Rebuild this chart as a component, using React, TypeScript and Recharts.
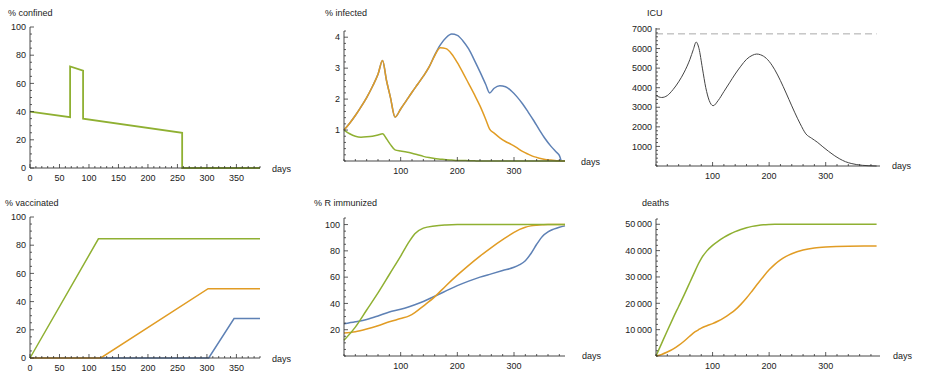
import { LineChart, Line, XAxis, YAxis } from "recharts";

const BLUE = "#5E81B5";
const ORANGE = "#E19C24";
const GREEN = "#8FB032";
const AXIS = "#333";
const TEXT = "#222";
const FONT = '"Liberation Sans", Arial, sans-serif';

// % confined
const confinedDays = [0, 68, 68, 90, 90, 258, 258, 390];
const confinedGreen = [40, 36, 72, 69, 35, 25, 0, 0];

// % infected
const infectedDays = [0, 10, 20, 30, 40, 50, 60, 68, 75, 82, 90, 100, 110, 120, 130, 140, 150, 160, 170, 180, 190, 200, 210, 220, 230, 240, 250, 257, 265, 275, 285, 295, 305, 315, 325, 335, 345, 355, 365, 375, 380, 383, 390];
const infectedBlue = [1.0, 1.22, 1.47, 1.75, 2.05, 2.4, 2.8, 3.25, 2.6, 2.05, 1.42, 1.68, 1.95, 2.22, 2.48, 2.74, 3.03, 3.42, 3.75, 3.98, 4.1, 4.06, 3.88, 3.62, 3.26, 2.88, 2.48, 2.2, 2.35, 2.43, 2.4, 2.27, 2.08, 1.85, 1.58, 1.3, 1.0, 0.72, 0.48, 0.28, 0.18, 0.02, null];
const infectedOrange = [1.0, 1.22, 1.47, 1.75, 2.05, 2.4, 2.8, 3.25, 2.6, 2.05, 1.42, 1.68, 1.95, 2.22, 2.48, 2.74, 3.03, 3.4, 3.66, 3.63, 3.46, 3.18, 2.85, 2.5, 2.15, 1.78, 1.35, 1.03, 0.9, 0.75, 0.63, 0.54, 0.43, 0.31, 0.22, 0.14, 0.09, 0.05, 0.03, 0.01, 0.01, 0, 0];
const infectedGreen = [1.0, 0.88, 0.8, 0.77, 0.78, 0.8, 0.84, 0.88, 0.72, 0.53, 0.36, 0.32, 0.29, 0.25, 0.2, 0.15, 0.11, 0.08, 0.06, 0.04, 0.03, 0.02, 0.015, 0.01, 0.005, 0, 0, 0, 0, 0, 0, 0, 0, 0, 0, 0, 0, 0, 0, 0, 0, 0, 0];

// ICU
const icuDays = [0, 10, 20, 30, 40, 50, 60, 66, 71, 76, 82, 88, 94, 101, 110, 120, 130, 140, 150, 160, 170, 178, 185, 195, 205, 215, 225, 235, 245, 255, 265, 275, 285, 295, 305, 315, 325, 335, 345, 355, 365, 375, 390];
const icuBeds = [3600, 3500, 3600, 3900, 4300, 4800, 5450, 5950, 6330, 6000, 5000, 4000, 3350, 3080, 3350, 3800, 4250, 4700, 5100, 5450, 5650, 5720, 5680, 5500, 5150, 4650, 4050, 3400, 2750, 2150, 1640, 1420, 1220, 980, 750, 540, 360, 220, 130, 70, 35, 15, 0];
const icuCapacityDays = [0, 390];
const icuCapacity = [6750, 6750];

// % vaccinated
const vaccGreenDays = [0, 116, 390];
const vaccGreen = [0, 84.5, 84.5];
const vaccOrangeDays = [0, 120, 302, 390];
const vaccOrange = [0, 0, 49.2, 49.2];
const vaccBlueDays = [0, 303, 346, 390];
const vaccBlue = [0, 0, 28, 28];

// % R immunized
const immuneDays = [0, 20, 40, 60, 80, 100, 115, 125, 140, 160, 180, 200, 220, 240, 260, 280, 300, 310, 320, 330, 340, 350, 360, 370, 380, 390];
const immuneBlue = [24.5, 26, 27.8, 30.5, 33.5, 35.5, 37.5, 39, 41.5, 45.5, 49.5, 53.5, 57, 60, 62.5, 65, 67.5, 69.5, 72.5, 78, 85, 91, 94.5, 96.5, 98, 99];
const immuneOrange = [17.5, 18.5, 20.5, 23, 26, 28.5, 30.5, 33, 38, 45, 53.5, 61.5, 69, 76, 82.5, 88.5, 94, 96.3, 98, 99, 99.5, 99.8, 100, 100, 100, 100];
const immuneGreen = [12, 22, 35, 48, 62, 76, 87, 93, 97.3, 99, 99.7, 100, 100, 100, 100, 100, 100, 100, 100, 100, 100, 100, 100, 100, 100, 100];

// deaths
const deathDays = [0, 10, 20, 30, 40, 50, 60, 70, 75, 80, 90, 100, 110, 120, 130, 140, 150, 160, 170, 180, 190, 200, 210, 220, 230, 240, 260, 280, 300, 340, 390];
const deathGreen = [0, 4800, 9600, 14300, 18800, 23300, 28000, 32700, 35000, 37000, 39900, 42000, 43600, 45000, 46200, 47200, 48000, 48700, 49200, 49550, 49800, 49920, 49980, 50000, 50000, 50000, 50000, 50000, 50000, 50000, 50000];
const deathOrange = [0, 600, 1500, 2600, 4000, 5700, 7600, 9300, 9950, 10600, 11500, 12300, 13300, 14500, 15900, 17500, 19600, 22000, 24700, 27500, 30200, 32700, 34800, 36500, 37800, 38800, 40200, 41000, 41400, 41700, 41750];

// tick labels
const xTicksWide = [0, 50, 100, 150, 200, 250, 300, 350];
const xTicksNarrow = [100, 200, 300];
const pctTicks = [0, 20, 40, 60, 80, 100];
const infectedTicks = [1, 2, 3, 4];
const icuTicks = [1000, 2000, 3000, 4000, 5000, 6000, 7000];
const immuneTicks = [20, 40, 60, 80, 100];
const deathTicks = [10000, 20000, 30000, 40000, 50000];

const range = (from: number, to: number, step: number) => {
  const out: number[] = [];
  for (let v = from; v <= to + 1e-9; v += step) out.push(Math.round(v * 1000) / 1000);
  return out;
};

const pts = (days: number[], vals: (number | null)[]) => days.map((d, i) => ({ day: d, v: vals[i] }));

const fmtThousands = (v: number) => (v >= 1000 ? `${Math.round(v / 1000)}\u2009000` : `${v}`);

const XTick = (props: any) => {
  const { x, y, payload, labels } = props;
  const v = payload.value;
  const major = labels.includes(v);
  return (
    <g>
      <line x1={x} x2={x} y1={y} y2={y - (major ? 4 : 2)} stroke={AXIS} strokeWidth={0.8} />
      {major && (
        <text x={x} y={y + 13} textAnchor="middle" fontSize={9} fill={TEXT} fontFamily={FONT}>
          {v}
        </text>
      )}
    </g>
  );
};

const YTick = (props: any) => {
  const { x, y, payload, labels, fmt } = props;
  const v = payload.value;
  const major = labels.includes(v);
  return (
    <g>
      <line x1={x} x2={x + (major ? 4 : 2)} y1={y} y2={y} stroke={AXIS} strokeWidth={0.8} />
      {major && (
        <text x={x - 4} y={y + 3.2} textAnchor="end" fontSize={9} fill={TEXT} fontFamily={FONT}>
          {fmt ? fmt(v) : v}
        </text>
      )}
    </g>
  );
};

type Series = { data: { day: number; v: number | null }[]; color: string; width?: number; dash?: string; curve?: "linear" | "monotone" };

interface PanelProps {
  x: number;
  y: number;
  w: number;
  h: number;
  plot: { left: number; top: number; right: number; bottom: number };
  xDomain: [number, number];
  yDomain: [number, number];
  xTicks: number[];
  xLabels: number[];
  yTicks: number[];
  yLabels: number[];
  yFmt?: (v: number) => string;
  series: Series[];
}

const Panel = ({ x, y, w, h, plot, xDomain, yDomain, xTicks, xLabels, yTicks, yLabels, yFmt, series }: PanelProps) => (
  <div style={{ position: "absolute", left: x, top: y }}>
    <LineChart
      width={w}
      height={h}
      margin={{ top: plot.top - y, right: x + w - plot.right, bottom: 0, left: 0 }}
    >
      <XAxis
        type="number"
        dataKey="day"
        domain={xDomain}
        ticks={xTicks}
        interval={0}
        height={y + h - plot.bottom}
        tickSize={0}
        tickMargin={0}
        tickLine={false}
        axisLine={{ stroke: AXIS, strokeWidth: 0.9 }}
        tick={(p: any) => <XTick {...p} labels={xLabels} />}
        allowDuplicatedCategory
      />
      <YAxis
        type="number"
        domain={yDomain}
        ticks={yTicks}
        interval={0}
        width={plot.left - x}
        tickSize={0}
        tickMargin={0}
        tickLine={false}
        axisLine={{ stroke: AXIS, strokeWidth: 0.9 }}
        tick={(p: any) => <YTick {...p} labels={yLabels} fmt={yFmt} />}
      />
      {series.map((s, i) => (
        <Line
          key={i}
          data={s.data}
          dataKey="v"
          type={s.curve ?? "monotone"}
          stroke={s.color}
          strokeWidth={s.width ?? 1.5}
          strokeDasharray={s.dash}
          dot={false}
          activeDot={false}
          isAnimationActive={false}
        />
      ))}
    </LineChart>
  </div>
);

const Label = ({ x, y, text }: { x: number; y: number; text: string }) => (
  <div style={{ position: "absolute", left: x, top: y - 6, fontSize: 9, lineHeight: "12px", color: TEXT, whiteSpace: "nowrap" }}>
    {text}
  </div>
);

export default function App() {
  return (
    <div style={{ position: "absolute", left: 0, top: 0, width: 926, height: 378, background: "#fff", fontFamily: FONT, overflow: "hidden" }}>
      <Panel
        x={0} y={0} w={265} h={185}
        plot={{ left: 30, top: 27, right: 260, bottom: 168 }}
        xDomain={[0, 390]} yDomain={[0, 100]}
        xTicks={range(0, 390, 10)} xLabels={xTicksWide}
        yTicks={range(0, 100, 5)} yLabels={pctTicks}
        series={[{ data: pts(confinedDays, confinedGreen), color: GREEN, width: 1.8, curve: "linear" }]}
      />
      <Panel
        x={310} y={0} w={260} h={185}
        plot={{ left: 344, top: 31, right: 565, bottom: 161 }}
        xDomain={[0, 390]} yDomain={[0, 4.2]}
        xTicks={range(0, 380, 20)} xLabels={xTicksNarrow}
        yTicks={range(0, 4.2, 0.2)} yLabels={infectedTicks}
        series={[
          { data: pts(infectedDays, infectedBlue), color: BLUE },
          { data: pts(infectedDays, infectedOrange), color: ORANGE },
          { data: pts(infectedDays, infectedGreen), color: GREEN },
        ]}
      />
      <Panel
        x={620} y={0} w={265} h={185}
        plot={{ left: 656, top: 28, right: 880, bottom: 166 }}
        xDomain={[0, 396]} yDomain={[0, 7050]}
        xTicks={range(0, 380, 20)} xLabels={xTicksNarrow}
        yTicks={range(0, 7000, 200)} yLabels={icuTicks}
        series={[
          { data: pts(icuCapacityDays, icuCapacity), color: "#aaa", width: 1, dash: "7 4", curve: "linear" },
          { data: pts(icuDays, icuBeds), color: "#444", width: 1 },
        ]}
      />
      <Panel
        x={0} y={190} w={265} h={188}
        plot={{ left: 30, top: 217, right: 260, bottom: 358 }}
        xDomain={[0, 390]} yDomain={[0, 100]}
        xTicks={range(0, 390, 10)} xLabels={xTicksWide}
        yTicks={range(0, 100, 5)} yLabels={pctTicks}
        series={[
          { data: pts(vaccBlueDays, vaccBlue), color: BLUE, curve: "linear" },
          { data: pts(vaccOrangeDays, vaccOrange), color: ORANGE, curve: "linear" },
          { data: pts(vaccGreenDays, vaccGreen), color: GREEN, curve: "linear" },
        ]}
      />
      <Panel
        x={310} y={190} w={260} h={188}
        plot={{ left: 344, top: 218, right: 565, bottom: 356 }}
        xDomain={[0, 390]} yDomain={[0, 105]}
        xTicks={range(0, 380, 20)} xLabels={xTicksNarrow}
        yTicks={range(0, 105, 5)} yLabels={immuneTicks}
        series={[
          { data: pts(immuneDays, immuneBlue), color: BLUE },
          { data: pts(immuneDays, immuneOrange), color: ORANGE },
          { data: pts(immuneDays, immuneGreen), color: GREEN },
        ]}
      />
      <Panel
        x={620} y={190} w={265} h={188}
        plot={{ left: 656, top: 219, right: 880, bottom: 356 }}
        xDomain={[0, 396]} yDomain={[0, 52000]}
        xTicks={range(0, 380, 20)} xLabels={xTicksNarrow}
        yTicks={range(0, 52000, 2000)} yLabels={deathTicks}
        yFmt={fmtThousands}
        series={[
          { data: pts(deathDays, deathOrange), color: ORANGE },
          { data: pts(deathDays, deathGreen), color: GREEN },
        ]}
      />

      <Label x={8} y={13} text="% confined" />
      <Label x={325} y={13} text="% infected" />
      <Label x={647} y={13} text="ICU" />
      <Label x={5} y={203} text="% vaccinated" />
      <Label x={314} y={203} text="% R immunized" />
      <Label x={642} y={203} text="deaths" />

      <Label x={272} y={169} text="days" />
      <Label x={581} y={162} text="days" />
      <Label x={892} y={166} text="days" />
      <Label x={272} y={359} text="days" />
      <Label x={582} y={356} text="days" />
      <Label x={893} y={356} text="days" />
    </div>
  );
}
